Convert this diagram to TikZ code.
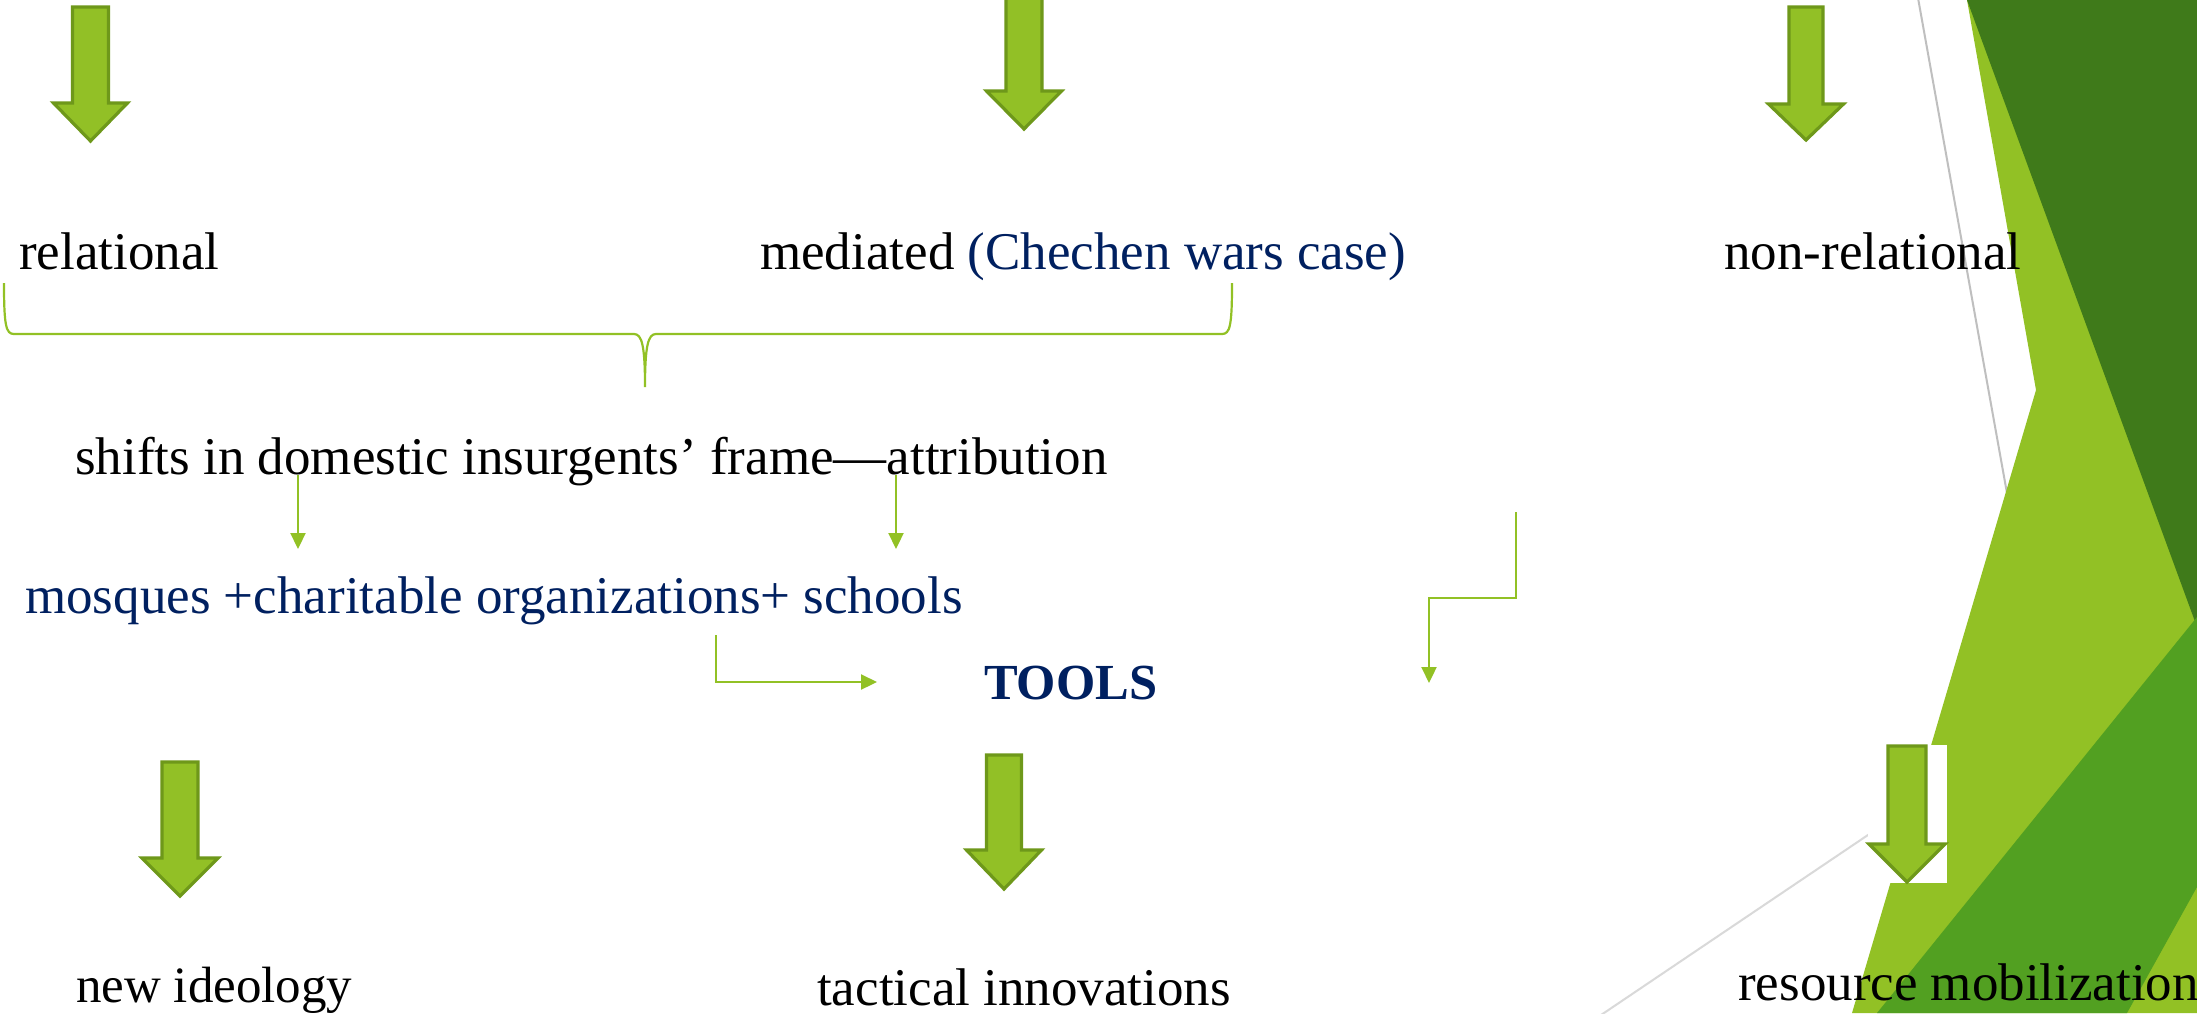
\documentclass[tikz,border=0pt]{standalone}
\usepackage{fontspec}
\setmainfont{Liberation Serif}
\usetikzlibrary{arrows.meta}
\definecolor{bglight}{RGB}{146,193,37}
\definecolor{bgdark}{RGB}{63,122,26}
\definecolor{bgmed}{RGB}{82,160,33}
\definecolor{arrfill}{RGB}{146,192,38}
\definecolor{arrborder}{RGB}{110,152,26}
\definecolor{navytext}{RGB}{0,32,96}
\definecolor{thingray}{RGB}{191,191,191}
\definecolor{palegray}{RGB}{217,217,217}
\tikzset{
  blockarr/.style={fill=arrfill, draw=arrborder, line width=3.2pt, line join=miter},
  txt/.style={anchor=base west, inner sep=0pt, font=\fontsize{53}{60}\selectfont},
  conn/.style={draw=bglight, line width=2.2pt, -{Triangle[length=16pt,width=15pt]}},
  bracestyle/.style={draw=bglight, line width=2.2pt}
}
\newcommand\gBlockArrow[6]{% cx, top, base, tip, shaft half, head half
  \draw[blockarr] ({#1-#5},#2) -- ({#1+#5},#2) -- ({#1+#5},#3) -- ({#1+#6},#3)
    -- (#1,#4) -- ({#1-#6},#3) -- ({#1-#5},#3) -- cycle;}
\begin{document}
\begin{tikzpicture}[x=1pt,y=-1pt]
\useasboundingbox (0,0) rectangle (2197,1013);
\clip (0,0) rectangle (2197,1013);
\fill[white] (0,0) rectangle (2197,1013);
% background decoration
\draw[thingray, line width=2pt] (1918,-2) -- (2010,510);
\draw[palegray, line width=2pt] (1601,1015) -- (1905,810);
\fill[bglight] (1967,0) -- (2197,0) -- (2197,1013) -- (1852,1013) -- (2036,390) -- cycle;
\fill[bgdark] (1967,0) -- (2197,0) -- (2197,627) -- cycle;
\fill[bgmed] (2197,617) -- (1877,1013) -- (2127,1013) -- (2197,887) -- cycle;
\fill[white] (1868,745) rectangle (1947,883);
% block arrows
\gBlockArrow{90.5}{7}{103}{141}{18}{37}
\gBlockArrow{1024}{-10}{91}{129}{18}{37.5}
\gBlockArrow{1806}{7}{104}{140}{17}{37.5}
\gBlockArrow{180}{762}{858}{896}{18}{38}
\gBlockArrow{1004}{755}{850}{889}{17.5}{37.5}
\gBlockArrow{1907}{746}{844}{882}{19}{38}
% texts
\node[txt] (rel) at (19,269) {relational};
\node[txt] (med) at (760,269) {mediated \textcolor{navytext}{(Chechen wars case)}};
\node[txt] (nonrel) at (1724,269) {non-relational};
\node[txt] (shifts) at (75,474) {shifts in domestic insurgents’ frame—attribution};
\node[txt, text=navytext] (mosq) at (25,613) {mosques +charitable organizations+ schools};
\node[txt, text=navytext, font=\fontsize{50.5}{60}\selectfont\bfseries] (tools) at (984,699) {TOOLS};
\node[txt, font=\fontsize{51}{60}\selectfont] (ideo) at (76,1002) {new ideology};
\node[txt] (tact) at (817,1005) {tactical innovations};
\node[txt] (resm) at (1738,1000) {resource mobilization};
% brace
\draw[bracestyle] (4,283) .. controls (4,326) and (6,334) .. (14,334) -- (634,334)
  .. controls (642,334) and (645,346) .. (645,387)
  .. controls (645,346) and (648,334) .. (656,334) -- (1222,334)
  .. controls (1230,334) and (1232,326) .. (1232,283);
% connectors
\coordinate (s1) at (298,475);
\coordinate (e1) at (298,549);
\coordinate (s2) at (896,475);
\coordinate (e2) at (896,549);
\coordinate (s3) at (716,635);
\coordinate (e3) at (877,682);
\coordinate (s4) at (1516,512);
\coordinate (m4a) at (1516,598);
\coordinate (m4b) at (1429,598);
\coordinate (e4) at (1429,683);
\draw[conn] (s1) -- (e1);
\draw[conn] (s2) -- (e2);
\draw[conn] (s3) |- (e3);
\draw[conn] (s4) -- (m4a) -- (m4b) -- (e4);
\end{tikzpicture}
\end{document}
